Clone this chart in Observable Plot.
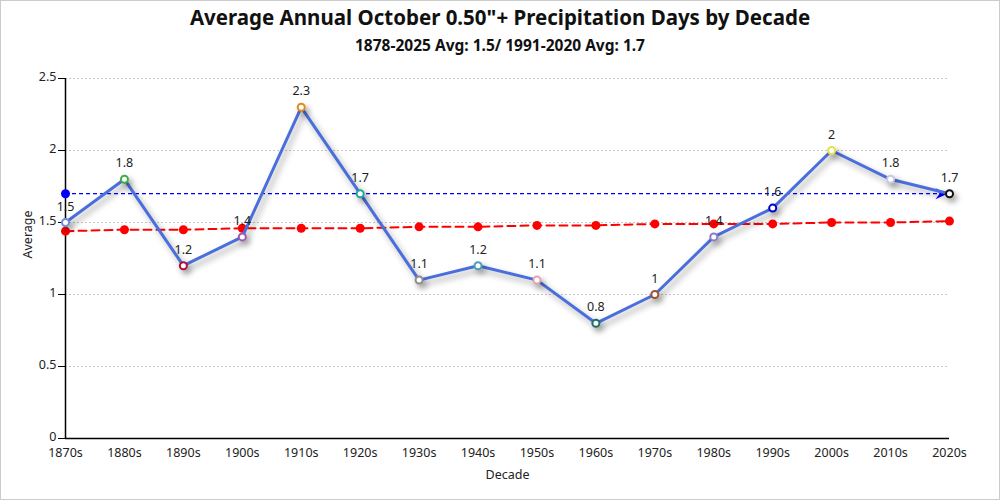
<!DOCTYPE html>
<html><head><meta charset="utf-8">
<script src="https://cdn.jsdelivr.net/npm/d3@7"></script>
<script src="https://cdn.jsdelivr.net/npm/@observablehq/plot@0.6"></script>
<style>
body{margin:0;background:#fff;font-family:"Noto Sans",sans-serif;}
#wrap{position:relative;width:1000px;height:500px;overflow:hidden;background:#fff;}
#frame{position:absolute;left:0;top:0;width:1000px;height:500px;box-sizing:border-box;border:1px solid #ccc;pointer-events:none;}
#title{height:34px;line-height:34px;text-align:center;font-weight:bold;font-size:20.5px;color:#111;white-space:nowrap;}
#subtitle{height:26px;line-height:22px;text-align:center;font-weight:bold;font-size:15.5px;color:#111;white-space:nowrap;}
#chart svg{display:block;}
</style></head>
<body>
<div id="wrap">
  <div id="title">Average Annual October 0.50"+ Precipitation Days by Decade</div>
  <div id="subtitle">1878-2025 Avg: 1.5/ 1991-2020 Avg: 1.7</div>
  <div id="chart"></div>
  <div id="frame"></div>
</div>
<script>
const decades = ["1870s","1880s","1890s","1900s","1910s","1920s","1930s","1940s","1950s","1960s","1970s","1980s","1990s","2000s","2010s","2020s"];
const values = [1.5,1.8,1.2,1.4,2.3,1.7,1.1,1.2,1.1,0.8,1,1.4,1.6,2,1.8,1.7];
const trend = [1.44,1.45,1.45,1.46,1.46,1.46,1.47,1.47,1.48,1.48,1.49,1.49,1.49,1.50,1.50,1.51];
const markerColors = ["#6d8fd6","#3cb043","#b0103a","#9b59b6","#e08a1c","#20a89a","#8c8c8c","#4a9fb5","#e6a1b4","#1e6f6a","#a0522d","#8a7bd0","#0000cd","#e6e04a","#c9c9e6","#111111"];
const normal = 1.7;
const yTicks = [0,0.5,1,1.5,2,2.5];

const idx = decades.map((d,i)=>i);
const last = decades.length - 1;
const data = decades.map((d,i)=>({i, decade:d, value:values[i], color:markerColors[i], trend:trend[i]}));

const arrowSymbol = {
  draw(ctx, size){
    ctx.moveTo(-2,0);
    ctx.lineTo(-14,-5.5);
    ctx.lineTo(-10,0);
    ctx.lineTo(-14,5.5);
    ctx.closePath();
  }
};

function shadow(index, scales, values, dimensions, context, next){
  const g = next(index, scales, values, dimensions, context);
  if (g) g.style.filter = "drop-shadow(3px 4px 3px rgba(0,0,0,0.35))";
  return g;
}

const plot = Plot.plot({
  width: 1000,
  height: 440,
  marginTop: 18,
  marginBottom: 62,
  marginLeft: 65,
  marginRight: 51,
  inset: 0,
  style: {fontFamily: '"Noto Sans", sans-serif', background: "transparent"},
  x: {type: "linear", domain: [0, last], inset: 0},
  y: {domain: [0, 2.5], inset: 0},
  marks: [
    Plot.gridY(yTicks.filter(t=>t>0), {stroke:"#c8c8c8", strokeOpacity:1, strokeDasharray:"2,2"}),
    Plot.axisY(yTicks, {tickSize:7, tickFormat:()=>"", label:null}),
    Plot.axisY(yTicks, {tickSize:0, tickPadding:9, fontSize:12.5, fill:"#222", tickFormat:d=>String(d), label:null, dy:-2}),
    Plot.axisX(idx, {tickSize:0, tickPadding:10, fontSize:12.5, fill:"#222", tickFormat:i=>decades[i], label:null}),
    Plot.text(["Average"], {frameAnchor:"left", dx:-38, rotate:-90, fontSize:12.5, fill:"#222"}),
    Plot.text(["Decade"], {frameAnchor:"bottom", dy:40, fontSize:12.5, fill:"#222"}),
    Plot.ruleY([0], {stroke:"#000", strokeWidth:1.5}),
    Plot.ruleX([0], {y1:0, y2:2.5, stroke:"#000", strokeWidth:1.5}),
    Plot.line(data, {x:"i", y:"trend", stroke:"#ff0000", strokeWidth:2, strokeDasharray:"8,5"}),
    Plot.dot(data, {x:"i", y:"trend", r:4.5, fill:"#ff0000", stroke:"none"}),
    Plot.ruleY([normal], {stroke:"#0000ff", strokeWidth:1.2, strokeDasharray:"4,3"}),
    Plot.dot([normal], {x:()=>0, y:d=>d, r:4.5, fill:"#0000ff", stroke:"none"}),
    Plot.dot([normal], {x:()=>last, y:d=>d, symbol:arrowSymbol, r:5, fill:"#0000ff", stroke:"none"}),
    Plot.line(data, {x:"i", y:"value", stroke:"#4a6fdc", strokeWidth:3, render:shadow}),
    Plot.dot(data, {x:"i", y:"value", r:3.5, fill:"#fff", stroke:"color", strokeWidth:2, render:shadow}),
    Plot.text(data, {x:"i", y:"value", text:d=>String(d.value), dy:-16, fontSize:12.5, fill:"#222"})
  ]
});
document.getElementById("chart").appendChild(plot);
</script>
</body></html>
